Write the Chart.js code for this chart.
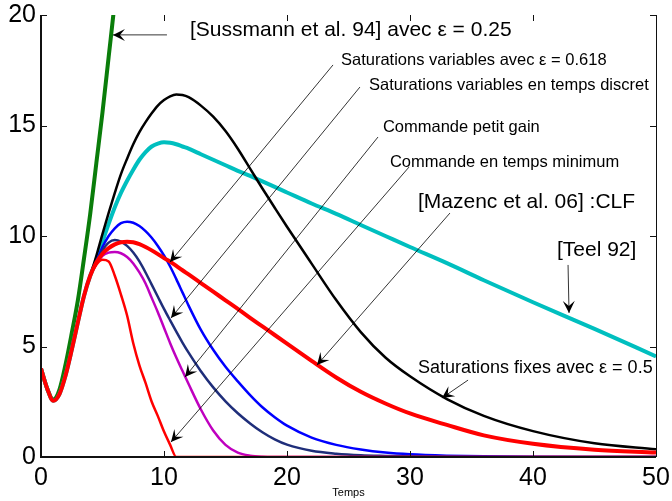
<!DOCTYPE html>
<html><head><meta charset="utf-8">
<script src="https://cdn.jsdelivr.net/npm/chart.js@4/dist/chart.umd.min.js"></script>
<style>html,body{margin:0;padding:0;background:#fff}#wrap{width:672px;height:501px}</style>
</head><body><div id="wrap"><canvas id="c" width="672" height="501"></canvas></div>
<script>
// ---- data ----
const temps = [0,0.5,1,1.5,2,2.5,3,3.5,4,4.5,5,5.5,6,6.5,7,7.5,8,8.5,9,9.5,10,10.5,11,11.5,12,13,14,15,16,17,18,19,20,22,24,26,28,30,33,36,40,45,50];
const sussmann94 = [4.0,3.1,2.6,3.05,4.2,5.6,7.1,9.0,11.0,13.3,15.6,18.1,20.6,23.2,null,null,null,null,null,null,null,null,null,null,null,null,null,null,null,null,null,null,null,null,null,null,null,null,null,null,null,null,null];
const saturationsFixes = [4.0,3.1,2.55,2.85,3.7,4.85,6.1,7.3,8.2,9.1,10.1,11.05,11.95,12.8,13.5,14.15,14.7,15.15,15.55,15.9,16.15,16.32,16.4,16.38,16.28,15.9,15.4,14.75,13.95,13.05,12.15,11.28,10.42,8.75,7.1,5.65,4.5,3.65,2.62,1.86,1.17,0.62,0.35];
const teel92 = [4.0,3.1,2.55,2.85,3.7,4.85,6.1,7.3,8.2,8.9,9.75,10.55,11.3,11.95,12.5,13.0,13.45,13.8,14.05,14.18,14.24,14.22,14.15,14.05,13.95,13.7,13.45,13.2,12.95,12.72,12.47,12.22,11.97,11.47,11.0,10.5,10.0,9.5,8.77,8.0,7.0,5.8,4.55];
const mazenc06 = [4.0,3.1,2.55,2.85,3.7,4.85,6.1,7.3,8.2,8.8,9.2,9.45,9.62,9.72,9.74,9.72,9.63,9.5,9.35,9.18,9.0,8.84,8.65,8.45,8.26,7.87,7.48,7.09,6.7,6.3,5.91,5.52,5.13,4.35,3.6,2.95,2.42,1.97,1.45,0.98,0.6,0.33,0.2];
const petitGain = [4.0,3.1,2.55,2.85,3.7,4.85,6.1,7.3,8.2,8.85,9.5,10.0,10.35,10.58,10.65,10.6,10.45,10.22,9.92,9.55,9.12,8.62,8.05,7.45,6.85,5.75,4.85,4.08,3.42,2.8,2.25,1.8,1.42,0.88,0.55,0.34,0.2,0.12,0.06,0.03,0.01,0,0];
const satVarDiscret = [4.0,3.1,2.55,2.85,3.7,4.85,6.1,7.3,8.2,8.85,9.35,9.7,9.82,9.75,9.55,9.25,8.85,8.35,7.8,7.25,6.7,6.18,5.67,5.18,4.72,3.88,3.15,2.52,1.98,1.52,1.12,0.8,0.56,0.28,0.15,0.08,0.05,0.03,0.01,0,0,0,0];
const satVar0618 = [4.0,3.1,2.55,2.85,3.7,4.85,6.1,7.3,8.2,8.75,9.1,9.25,9.28,9.22,9.05,8.76,8.35,7.85,7.2,6.55,5.85,5.15,4.5,3.9,3.3,2.15,1.2,0.55,0.2,0.06,0.01,0,0,0,0,0,0,0,0,0,0,0,0];
const tempsMinimum = [4.0,3.1,2.55,2.85,3.7,4.85,6.1,7.3,8.2,8.7,8.92,8.85,8.2,7.35,6.4,5.15,4.15,3.35,2.5,1.85,1.15,0.55,0,0,0,0,0,0,0,0,0,0,0,0,0,0,0,0,0,0,0,0,0];
const xTicks = [0,10,20,30,40,50];
const yTicks = [0,5,10,15,20];

// annotation texts with anchor (data coords) and arrow (from -> to, data coords)
const annTexts = ["[Sussmann et al. 94] avec \u03b5 = 0.25","Saturations variables avec \u03b5 = 0.618","Saturations variables en temps discret","Commande petit gain","Commande en temps minimum","[Mazenc et al. 06] :CLF","[Teel 92]","Saturations fixes avec \u03b5 = 0.5"];
const annTextT = [12.11,24.39,26.67,27.80,28.37,30.65,41.95,30.65];
const annTextV = [19.32,17.96,16.79,14.89,13.35,11.54,9.37,4.03];
const arrowFromT = [10.24,23.74,25.93,27.40,29.92,33.25,42.85,34.72];
const arrowFromV = [19.1,17.74,16.74,14.48,13.12,11.04,8.69,3.48];
const arrowToT = [5.85,10.49,10.57,11.71,10.57,22.44,42.93,32.6];
const arrowToV = [19.1,8.82,6.29,3.62,0.68,4.16,6.52,2.67];
// style of each annotation text
const annFont = [21,16.5,16.5,16.5,16.5,21,21,18];
const annMaxW = [332,271,281,160,232,220,80,240];

function pts(ys){ return temps.map((t,i)=>({x:t,y:ys[i]})); }
function ds(label, ys, color, w){
  return {label, data:pts(ys), borderColor:color, backgroundColor:color, borderWidth:w,
    pointRadius:0, cubicInterpolationMode:'monotone', fill:false, spanGaps:false};
}

const framePlugin = {
  id:'frame',
  afterDatasetsDraw(chart){
    const {ctx, chartArea:a, scales:{x,y}} = chart;
    ctx.save();
    ctx.strokeStyle='#111';
    ctx.lineWidth=1;
    ctx.beginPath();
    ctx.moveTo(a.right+0.5,a.top); ctx.lineTo(a.right+0.5,a.bottom);
    const L=6;
    xTicks.forEach(v=>{const px=Math.round(x.getPixelForValue(v))+0.5;
      ctx.moveTo(px,a.bottom); ctx.lineTo(px,a.bottom-L);
      ctx.moveTo(px,a.top); ctx.lineTo(px,a.top+L);});
    yTicks.forEach(v=>{const py=Math.round(y.getPixelForValue(v))+0.5;
      ctx.moveTo(a.left,py); ctx.lineTo(a.left+L,py);
      ctx.moveTo(a.right,py); ctx.lineTo(a.right-L,py);});
    ctx.stroke();
    ctx.lineWidth=2;
    ctx.beginPath();
    ctx.moveTo(a.left,a.top); ctx.lineTo(a.left,a.bottom); ctx.lineTo(a.right,a.bottom);
    ctx.stroke();

    // annotations
    ctx.fillStyle='#000'; ctx.strokeStyle='#000';
    ctx.textBaseline='middle'; ctx.textAlign='left';
    annTexts.forEach((txt,i)=>{
      ctx.font = annFont[i]+'px "Liberation Sans", Arial, sans-serif';
      ctx.fillText(txt, x.getPixelForValue(annTextT[i]), y.getPixelForValue(annTextV[i]), annMaxW[i]);
      const x0=x.getPixelForValue(arrowFromT[i]), y0=y.getPixelForValue(arrowFromV[i]);
      const x1=x.getPixelForValue(arrowToT[i]), y1=y.getPixelForValue(arrowToV[i]);
      ctx.lineWidth=0.8;
      ctx.beginPath(); ctx.moveTo(x0,y0); ctx.lineTo(x1,y1); ctx.stroke();
      const ang=Math.atan2(y1-y0,x1-x0);
      ctx.save(); ctx.translate(x1,y1); ctx.rotate(ang);
      ctx.beginPath(); ctx.moveTo(0,0); ctx.lineTo(-12,-6); ctx.lineTo(-7,0); ctx.lineTo(-12,6); ctx.closePath(); ctx.fill();
      ctx.restore();
    });
    ctx.restore();
  }
};

new Chart(document.getElementById('c'), {
  type:'line',
  data:{datasets:[
    ds('[Mazenc et al. 06] :CLF', mazenc06, '#ff0000', 4),
    ds('Commande en temps minimum', tempsMinimum, '#ff0000', 2.5),
    ds('Saturations variables avec \u03b5 = 0.618', satVar0618, '#bf00bf', 2.5),
    ds('Saturations variables en temps discret', satVarDiscret, '#1f2e7a', 2.5),
    ds('Commande petit gain', petitGain, '#0000ff', 2.5),
    ds('Saturations fixes avec \u03b5 = 0.5', saturationsFixes, '#000000', 2.5),
    ds('[Teel 92]', teel92, '#00bfbf', 4),
    ds('[Sussmann et al. 94] avec \u03b5 = 0.25', sussmann94, '#0a7d0a', 4)
  ]},
  options:{
    responsive:false, animation:false, devicePixelRatio:1,
    layout:{padding:{top:15,right:16,left:0,bottom:0}},
    plugins:{legend:{display:false}, tooltip:{enabled:false}},
    scales:{
      x:{type:'linear', min:0, max:50,
        afterFit(s){ s.height=44; s.paddingLeft=0; s.paddingRight=0; },
        ticks:{stepSize:10, color:'#000', padding:6, maxRotation:0, font:{size:25, family:'"Liberation Sans", Arial, sans-serif'}},
        grid:{display:false, drawTicks:false}, border:{display:false},
        title:{display:true, text:'Temps', color:'#000', padding:{top:0,bottom:1}, font:{size:11, family:'"Liberation Sans", Arial, sans-serif'}}
      },
      y:{type:'linear', min:0, max:20,
        afterFit(s){ s.width=41; s.paddingTop=0; s.paddingBottom=0; },
        ticks:{stepSize:5, color:'#000', padding:5, font:{size:25, family:'"Liberation Sans", Arial, sans-serif'}},
        grid:{display:false, drawTicks:false}, border:{display:false}
      }
    }
  },
  plugins:[framePlugin]
});
</script>
</body></html>
